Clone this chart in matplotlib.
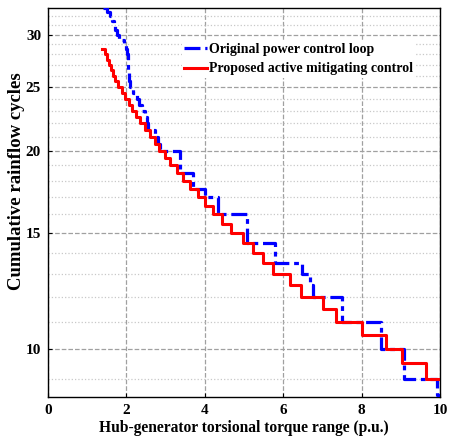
import numpy as np
import matplotlib.pyplot as plt
from matplotlib.ticker import FixedLocator, NullFormatter

# torque range where each cumulative level starts (step curves)
orig_range = [1.40, 1.50, 1.57, 1.62, 1.67, 1.71, 1.75, 1.80, 1.93, 2.00,
              2.02, 2.03, 2.04, 2.05, 2.06, 2.07, 2.10, 2.16, 2.27, 2.33,
              2.40, 2.48, 2.52, 2.55, 2.72, 2.80, 2.86, 3.37, 3.70, 4.01,
              4.34, 5.08, 5.79, 6.48, 6.68, 6.76, 7.50, 8.49, 9.08, 9.92]
orig_cycles = [33.0, 32.5, 32.0, 31.5, 31.0, 30.5, 30.0, 29.5, 29.0, 28.5,
               28.0, 27.5, 27.0, 26.5, 26.0, 25.5, 25.0, 24.5, 24.0, 23.5,
               23.0, 22.5, 22.0, 21.5, 21.0, 20.5, 20.0, 18.5, 17.5, 17.0,
               16.0, 14.5, 13.5, 13.0, 12.5, 12.0, 11.0, 10.0, 9.0, 8.5]

prop_range = [1.38, 1.45, 1.51, 1.56, 1.61, 1.66, 1.72, 1.79, 1.88, 1.97,
              2.07, 2.15, 2.25, 2.35, 2.47, 2.60, 2.72, 2.84, 2.98, 3.11,
              3.29, 3.44, 3.62, 3.83, 4.01, 4.21, 4.44, 4.67, 4.97, 5.23,
              5.48, 5.74, 6.17, 6.45, 7.02, 7.35, 8.00, 8.62, 9.02, 9.64]
prop_cycles = [28.5, 28.0, 27.5, 27.0, 26.5, 26.0, 25.5, 25.0, 24.5, 24.0,
               23.5, 23.0, 22.5, 22.0, 21.5, 21.0, 20.5, 20.0, 19.5, 19.0,
               18.5, 18.0, 17.5, 17.0, 16.5, 16.0, 15.5, 15.0, 14.5, 14.0,
               13.5, 13.0, 12.5, 12.0, 11.5, 11.0, 10.5, 10.0, 9.5, 9.0]
x_end = 10.0

y_major = [10, 15, 20, 25, 30]
y_minor = [9, 11, 12, 13, 14, 16, 17, 18, 19, 21, 22, 23, 24, 26, 27, 28, 29, 31, 32]

plt.rcParams['font.family'] = ['Liberation Serif', 'DejaVu Serif']
plt.rcParams['font.weight'] = 'bold'

fig = plt.figure(figsize=(4.49, 4.42), dpi=100)
ax = fig.add_axes([0.107, 0.102, 0.873, 0.881])

ax.set_yscale('log')
ax.grid(True, which='major', ls='--', color='#a0a0a0', lw=0.9)
ax.yaxis.grid(True, which='minor', ls=':', color='#c8c8c8', lw=0.9)

ax.step(orig_range + [x_end], orig_cycles + [orig_cycles[-1]], where='post',
        color='blue', lw=2.3, ls=(0, (5, 1.5, 1.5, 1.5)), label='Original power control loop', zorder=3)
ax.step(prop_range + [x_end], prop_cycles + [prop_cycles[-1]], where='post',
        color='red', lw=2.2, label='Proposed active mitigating control', zorder=4)

ax.set_xlim(0, 10)
ax.set_ylim(8.45, 33)
ax.set_xticks([0, 2, 4, 6, 8, 10])
ax.yaxis.set_major_locator(FixedLocator(y_major))
ax.yaxis.set_minor_locator(FixedLocator(y_minor))
ax.set_yticklabels([str(v) for v in y_major])
ax.yaxis.set_minor_formatter(NullFormatter())
ax.tick_params(which='both', direction='in', labelsize=11, width=0.8)
ax.tick_params(which='minor', length=0)
ax.tick_params(which='major', length=3, pad=5)
for s in ax.spines.values():
    s.set_linewidth(1.0)

ax.set_xlabel('Hub-generator torsional torque range (p.u.)', fontsize=11.2, fontweight='bold', labelpad=2)
ax.set_ylabel('Cumulative rainflow cycles', fontsize=13.5, fontweight='bold')
ax.yaxis.set_label_coords(-0.058, 0.555)

leg = ax.legend(loc='upper right', bbox_to_anchor=(0.955, 0.935), fontsize=10, frameon=True,
                handlelength=1.6, handletextpad=0.15, borderpad=0.2, labelspacing=0.5)
leg.get_frame().set_edgecolor('none')
leg.get_frame().set_alpha(1)
for t in leg.get_texts():
    t.set_fontweight('bold')

fig.savefig('out.png', dpi=100)
